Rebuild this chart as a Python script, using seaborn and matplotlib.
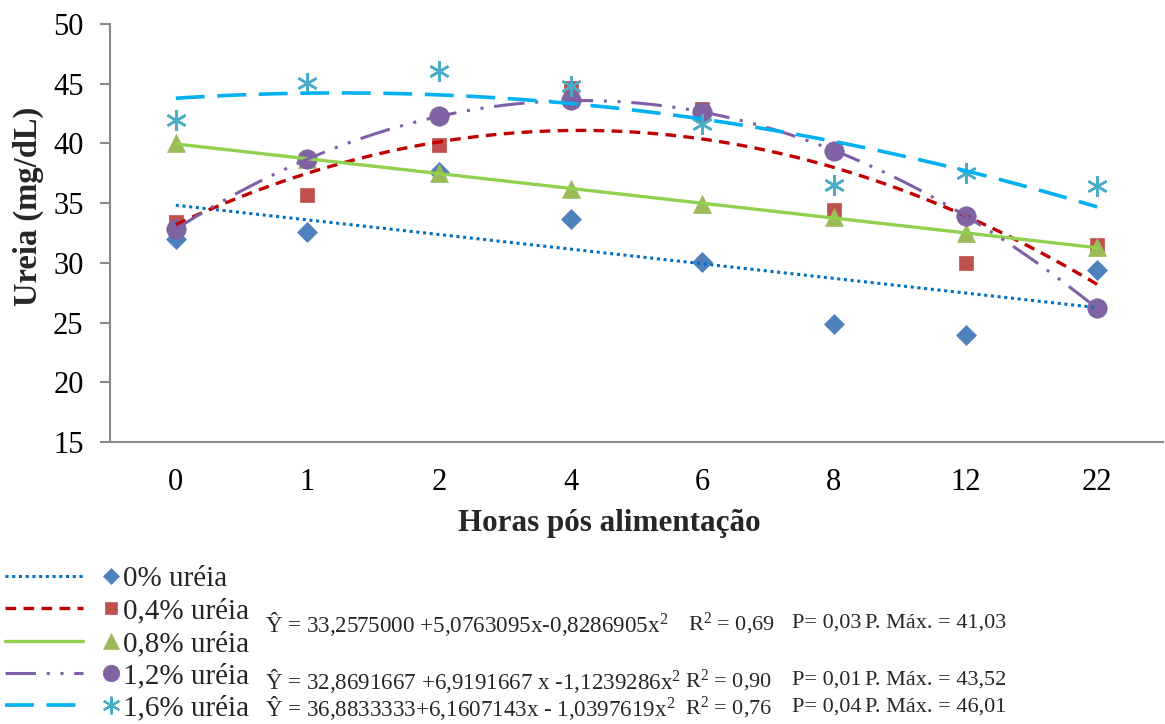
import numpy as np
import pandas as pd
import matplotlib
matplotlib.use("Agg")
import matplotlib.pyplot as plt
from matplotlib.lines import Line2D
from matplotlib.legend_handler import HandlerBase
import seaborn as sns

# ---------------- data ----------------
hours = ["0", "1", "2", "4", "6", "8", "12", "22"]
series_names = ["0% uréia", "0,4% uréia", "0,8% uréia", "1,2% uréia", "1,6% uréia"]
urea_0 = [32.0, 32.6, 37.6, 33.7, 30.1, 24.9, 24.0, 29.4]
urea_04 = [33.4, 35.7, 39.9, 44.6, 42.9, 34.4, 30.0, 31.5]
urea_08 = [40.0, 38.7, 37.5, 36.2, 34.9, 33.8, 32.5, 31.3]
urea_12 = [32.8, 38.7, 42.3, 43.6, 42.6, 39.4, 33.9, 26.2]
urea_16 = [42.0, 45.1, 46.1, 44.8, 41.6, 36.5, 37.5, 36.4]
trend_order = [1, 2, 1, 2, 2]

equations = [
    ("Ŷ = 33,2575000 +5,0763095x-0,8286905x$^{2}$", "R$^{2}$ = 0,69", "P= 0,03", "P. Máx. = 41,03"),
    ("Ŷ = 32,8691667 +6,9191667 x -1,1239286x$^{2}$", "R$^{2}$ = 0,90", "P= 0,01", "P. Máx. = 43,52"),
    ("Ŷ = 36,8833333+6,1607143x - 1,0397619x$^{2}$", "R$^{2}$ = 0,76", "P= 0,04", "P. Máx. = 46,01"),
]

# ---------------- style ----------------
sns.set_style("white")
plt.rcParams["font.family"] = ["Liberation Serif", "DejaVu Serif"]
plt.rcParams["mathtext.fontset"] = "custom"
plt.rcParams["mathtext.rm"] = "Liberation Serif"
plt.rcParams["mathtext.it"] = "Liberation Serif:italic"
plt.rcParams["mathtext.bf"] = "Liberation Serif:bold"
plt.rcParams["mathtext.default"] = "rm"

marker_colors = ["#4F81BD", "#C0504D", "#9BBB59", "#8064A2", "#4BACC6"]
line_colors = ["#0070C0", "#C00000", "#92D050", "#7F5FA8", "#00B0F0"]
markers = ["D", "s", "^", "o", (6, 2, 0)]
msizes = [10, 10.5, 13, 14, 15]
line_styles = [(0, (1, 1.2)), (0, (3.2, 2.2)), "-", (0, (10, 3.5, 1, 3.5, 1, 3.5)), (0, (8, 3.5))]
line_widths = [2.2, 2.4, 2.4, 2.2, 2.6]

all_vals = [urea_0, urea_04, urea_08, urea_12, urea_16]
idx = np.arange(len(hours))

fig = plt.figure(figsize=(11.65, 7.24), dpi=100)
ax = fig.add_axes([110 / 1165, 1 - 442 / 724, (1163 - 110) / 1165, (442 - 24) / 724])

line_handles = []
marker_handles = []
for i, vals in enumerate(all_vals):
    df = pd.DataFrame({"x": idx, "y": vals})
    m = markers[i]
    is_star = isinstance(m, tuple)
    ax.plot(df["x"], df["y"], linestyle="none", marker=m, markersize=msizes[i],
            color=marker_colors[i], markeredgecolor=marker_colors[i],
            markeredgewidth=1.8 if is_star else 0.5, zorder=3)
    sns.regplot(data=df, x="x", y="y", order=trend_order[i], ci=None, scatter=False,
                truncate=True, ax=ax,
                line_kws=dict(color=line_colors[i], linestyle=line_styles[i],
                              linewidth=line_widths[i], zorder=4))
    line_handles.append(Line2D([], [], color=line_colors[i], linestyle=line_styles[i],
                               linewidth=line_widths[i]))
    marker_handles.append(Line2D([], [], linestyle="none", marker=m,
                                 markersize=msizes[i] * 0.85, color=marker_colors[i],
                                 markeredgecolor=marker_colors[i],
                                 markeredgewidth=1.6 if is_star else 0.5))

ax.set_xlim(-0.5, len(hours) - 0.5)
ax.set_ylim(15, 50)
ax.set_yticks(np.arange(15, 51, 5))
ax.set_xticks(idx)
ax.set_xticklabels(hours)
ax.set_xticks(np.arange(-0.5, len(hours), 1.0), minor=True)

spine_color = "#898989"
for s in ["top", "right"]:
    ax.spines[s].set_visible(False)
for s in ["left", "bottom"]:
    ax.spines[s].set_color(spine_color)
    ax.spines[s].set_linewidth(1.5)

ax.tick_params(axis="x", which="major", length=0, pad=19, labelsize=22, labelcolor="black")
ax.tick_params(axis="x", which="minor", length=7, width=1.5, color=spine_color, direction="out")
ax.tick_params(axis="y", which="major", length=7, width=1.5, color=spine_color,
               direction="out", pad=12, labelsize=22, labelcolor="black", left=True)
ax.grid(False)

ax.set_xlabel("Horas pós alimentação", fontsize=22.4, fontweight="bold")
ax.set_ylabel("Ureia (mg/dL)", fontsize=23.5, fontweight="bold")
ax.xaxis.set_label_coords((609 - 110) / 1053, -(509 - 442) / 418)
ax.yaxis.set_label_coords((44 - 110) / 1053, (442 - 206) / 418)


class LineMarkerHandler(HandlerBase):
    def create_artists(self, legend, orig_handle, xdescent, ydescent, width, height,
                       fontsize, trans):
        line, mk = orig_handle
        y = height / 2 - ydescent
        l = Line2D([-xdescent, -xdescent + width * 0.68], [y, y])
        l.update_from(line)
        l.set_transform(trans)
        mm = Line2D([-xdescent + width * 0.92], [y])
        mm.update_from(mk)
        mm.set_transform(trans)
        return [l, mm]


handles = list(zip(line_handles, marker_handles))
fig.legend(handles, series_names, handler_map={tuple: LineMarkerHandler()},
           loc="upper left", bbox_to_anchor=(5 / 1165, 1 - 566 / 724),
           frameon=False, fontsize=21, handlelength=3.95, handletextpad=0.08,
           labelspacing=0.2, borderpad=0, borderaxespad=0)

eq_rows_y = [621, 678, 705]
r_x = [688, 685, 685]
for (eq, r2, p, pm), yy, rx in zip(equations, eq_rows_y, r_x):
    yf = 1 - yy / 724
    fig.text(265 / 1165, yf, eq, fontsize=16.6, va="center_baseline", ha="left")
    fig.text(rx / 1165, yf, r2, fontsize=16, va="center_baseline", ha="left")
    fig.text(792 / 1165, yf, p, fontsize=16, va="center_baseline", ha="left")
    fig.text(865 / 1165, yf, pm, fontsize=16, va="center_baseline", ha="left")

fig.savefig("out.png", dpi=100)
